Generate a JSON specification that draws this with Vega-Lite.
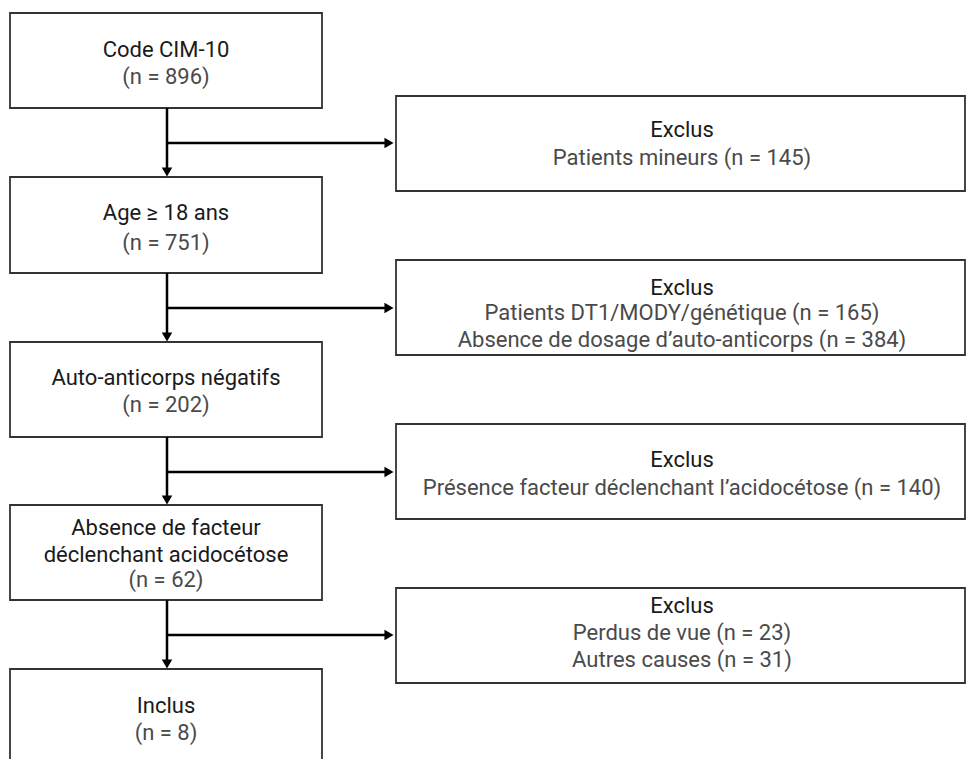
{
  "$schema": "https://vega.github.io/schema/vega-lite/v6.json",
  "width": 974,
  "height": 759,
  "padding": 0,
  "autosize": {"type": "none"},
  "background": "white",
  "config": {"view": {"stroke": null}},
  "datasets": {
    "boxes": [
      {"x": 10, "x2": 322, "y": 13, "y2": 108},
      {"x": 10, "x2": 322, "y": 177, "y2": 273},
      {"x": 10, "x2": 322, "y": 342, "y2": 437},
      {"x": 10, "x2": 322, "y": 505, "y2": 600},
      {"x": 10, "x2": 322, "y": 669, "y2": 800},
      {"x": 396, "x2": 965, "y": 96, "y2": 191},
      {"x": 396, "x2": 965, "y": 260, "y2": 355},
      {"x": 396, "x2": 965, "y": 424, "y2": 519},
      {"x": 396, "x2": 965, "y": 588, "y2": 683}
    ],
    "lines": [
      {"x": 167, "x2": 167, "y": 108, "y2": 172},
      {"x": 167, "x2": 167, "y": 273, "y2": 337},
      {"x": 167, "x2": 167, "y": 437, "y2": 500},
      {"x": 167, "x2": 167, "y": 600, "y2": 664},
      {"x": 167, "x2": 388, "y": 143, "y2": 143},
      {"x": 167, "x2": 388, "y": 308, "y2": 308},
      {"x": 167, "x2": 388, "y": 472, "y2": 472},
      {"x": 167, "x2": 388, "y": 635, "y2": 635}
    ],
    "down": [
      {"x": 167, "y": 172},
      {"x": 167, "y": 337},
      {"x": 167, "y": 500},
      {"x": 167, "y": 664}
    ],
    "right": [
      {"x": 389, "y": 143},
      {"x": 389, "y": 308},
      {"x": 389, "y": 472},
      {"x": 389, "y": 635}
    ],
    "titles": [
      {"x": 166, "y": 50, "t": "Code CIM-10"},
      {"x": 166, "y": 213, "t": "Age ≥ 18 ans"},
      {"x": 166, "y": 378, "t": "Auto-anticorps négatifs"},
      {"x": 166, "y": 528, "t": "Absence de facteur"},
      {"x": 166, "y": 555, "t": "déclenchant acidocétose"},
      {"x": 166, "y": 706, "t": "Inclus"},
      {"x": 682, "y": 130, "t": "Exclus"},
      {"x": 682, "y": 288, "t": "Exclus"},
      {"x": 682, "y": 460, "t": "Exclus"},
      {"x": 682, "y": 606, "t": "Exclus"}
    ],
    "subs": [
      {"x": 166, "y": 77, "t": "(n = 896)"},
      {"x": 166, "y": 243, "t": "(n = 751)"},
      {"x": 166, "y": 405, "t": "(n = 202)"},
      {"x": 166, "y": 580, "t": "(n = 62)"},
      {"x": 166, "y": 733, "t": "(n = 8)"},
      {"x": 682, "y": 158, "t": "Patients mineurs (n = 145)"},
      {"x": 682, "y": 313, "t": "Patients DT1/MODY/génétique (n = 165)"},
      {"x": 682, "y": 340, "t": "Absence de dosage d’auto-anticorps  (n = 384)"},
      {"x": 682, "y": 488, "t": "Présence facteur déclenchant l’acidocétose (n = 140)"},
      {"x": 682, "y": 633, "t": "Perdus de vue (n = 23)"},
      {"x": 682, "y": 660, "t": "Autres causes (n = 31)"}
    ]
  },
  "layer": [
    {
      "data": {"name": "boxes"},
      "mark": {"type": "rect", "fill": "white", "stroke": "#333333", "strokeWidth": 1.8, "clip": true},
      "encoding": {
        "x": {"field": "x", "type": "quantitative", "scale": {"domain": [0, 974], "nice": false, "zero": false}, "axis": null},
        "x2": {"field": "x2"},
        "y": {"field": "y", "type": "quantitative", "scale": {"domain": [0, 759], "nice": false, "zero": false, "reverse": true}, "axis": null},
        "y2": {"field": "y2"}
      }
    },
    {
      "data": {"name": "lines"},
      "mark": {"type": "rule", "stroke": "#000000", "strokeWidth": 2.5},
      "encoding": {
        "x": {"field": "x", "type": "quantitative"},
        "x2": {"field": "x2"},
        "y": {"field": "y", "type": "quantitative"},
        "y2": {"field": "y2"}
      }
    },
    {
      "data": {"name": "down"},
      "mark": {"type": "point", "shape": "triangle-down", "filled": true, "color": "#000000", "size": 110, "opacity": 1},
      "encoding": {
        "x": {"field": "x", "type": "quantitative"},
        "y": {"field": "y", "type": "quantitative"}
      }
    },
    {
      "data": {"name": "right"},
      "mark": {"type": "point", "shape": "triangle-right", "filled": true, "color": "#000000", "size": 110, "opacity": 1},
      "encoding": {
        "x": {"field": "x", "type": "quantitative"},
        "y": {"field": "y", "type": "quantitative"}
      }
    },
    {
      "data": {"name": "titles"},
      "mark": {"type": "text", "font": "Roboto", "fontSize": 22, "fontWeight": "normal", "color": "#1a1a1a", "align": "center", "baseline": "middle"},
      "encoding": {
        "x": {"field": "x", "type": "quantitative"},
        "y": {"field": "y", "type": "quantitative"},
        "text": {"field": "t"}
      }
    },
    {
      "data": {"name": "subs"},
      "mark": {"type": "text", "font": "Roboto", "fontSize": 22, "color": "#4a4a4a", "align": "center", "baseline": "middle"},
      "encoding": {
        "x": {"field": "x", "type": "quantitative"},
        "y": {"field": "y", "type": "quantitative"},
        "text": {"field": "t"}
      }
    }
  ]
}
